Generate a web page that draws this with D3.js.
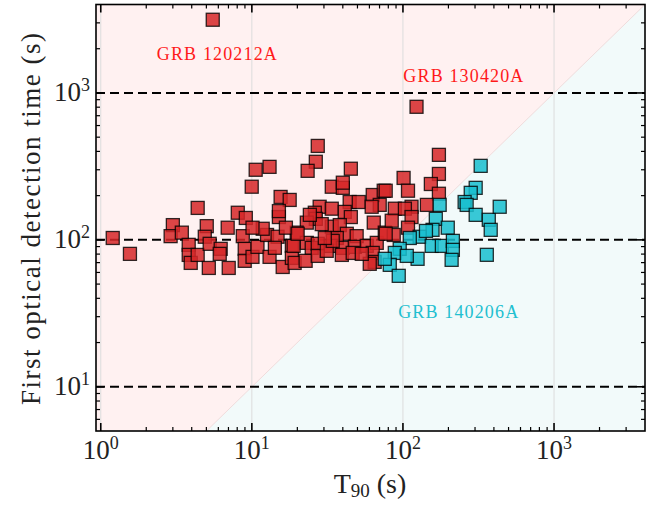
<!DOCTYPE html>
<html>
<head>
<meta charset="utf-8">
<script src="https://cdn.jsdelivr.net/npm/d3@7"></script>
<style>
body{margin:0;background:#fff}
text{font-family:"Liberation Serif","Times New Roman",serif}
</style>
</head>
<body>
<svg></svg>
<script>
// 红色样本 (T90, 首次光学探测时间)
var redT90 = [1.20,1.56,5.51,123,3.00,2.90,3.44,3.82,3.82,3.94,4.38,4.38,5.19,5.03,4.88,5.26,6.22,7.03,6.92,8.07,
  9.12,8.71,8.97,8.97,10.1,10.9,10.6,13.1,9.98,15.5,17.8,12.6,14.8,15.1,15.1,13.1,16.0,11.8,10.1,14.2,
  18.4,18.4,27.3,26.5,23.4,45.2,33.8,40.0,40.0,28.1,33.8,44.4,51.0,63.1,74.6,70.2,62.1,41.2,26.1,26.5,
  23.1,19.8,45.2,64.1,33.8,38.2,29.0,42.5,49.4,36.5,18.9,23.1,24.9,27.3,33.3,40.0,48.0,57.6,67.1,75.8,
  19.2,22.7,27.3,39.4,46.5,63.1,65.0,60.3,53.4,31.3,34.3,173,173,101,153,108,76.9,173,144,88.3,
  114,103,114,84.3,108,86.9,76.9,16.8,20.1,24.2,30.4,6.13]
var redTime = [103,80.3,3150,805,126,106,112,92.5,79,69.7,165,79,64.4,124,105,94,86.9,64.4,121,153,
  141,106,86.9,72.0,76.6,89.6,300,314,230,196,187,108,105,143,157,76.6,65.4,119,121,88.3,
  91,75.4,436,340,295,305,230,226,245,168,163,181,181,202,216,173,168,155,153,139,
  131,112,143,131,123,126,128,110,106,103,91,95.4,88.2,94,91,88.2,89.6,91,95.4,112,
  69.7,72,77.8,79,81.5,81.5,70.8,68.7,80.3,84.2,98.4,379,281,264,240,216,216,206,173,163,
  168,163,143,135,121,108,110,121,110,148,103,80.3]
// 青色样本
var cyanT90 = [175,327,303,281,256,264,303,370,381,437,165,198,157,129,111,155,181,214,214,210,
  125,95.2,88.3,81.8,93.8,106,359,75.8,142]
var cyanTime = [173,319,226,209,181,173,148,137,117,168,139,121,117,105,103,91,91,98.4,85.5,73.1,
  74.3,86.9,81.5,67.6,56.9,77.8,79.1,74.3,115]
var xTicks = [1,10,100,1000]
var yTicks = [10,100,1000]
var xExp = ['0','1','2','3']
var yExp = ['1','2','3']
var notes = ['GRB 120212A','GRB 130420A','GRB 140206A']
var noteT90 = [5.86,251,232]
var noteTime = [1683,1191,29.4]

var red = '#d62728', cyan = '#17becf'

var svg = d3.select('svg')
.attr('width',664)
.attr('height',505)

// 比例尺
const x = d3.scaleLog().domain([0.93, 4000]).range([96, 645]);
const y = d3.scaleLog().domain([5, 4000]).range([431, 4.5]);
const x0 = 96, x1 = 645, y0 = 431, y1 = 4.5

// 背景两个区域 (以 y = x 分界)
svg.append('rect')
  .attr('x', x0).attr('y', y1)
  .attr('width', x1 - x0).attr('height', y0 - y1)
  .attr('fill', '#fff1f1')
svg.append('path')
  .attr('d', d3.line()([[x(5), y(5)], [x(4000), y(4000)], [x(4000), y(5)]]))
  .attr('fill', '#f2fafa')
svg.append('line')
  .attr('x1', x(5)).attr('y1', y(5))
  .attr('x2', x(4000)).attr('y2', y(4000))
  .attr('stroke', '#f0dcdc').attr('stroke-width', 1)

// 竖直网格线
svg.selectAll('.grid')
  .data(xTicks)
  .enter()
  .append('line')
  .attr('x1', d => x(d)).attr('x2', d => x(d))
  .attr('y1', y0).attr('y2', y1)
  .attr('stroke', '#dcdcdc').attr('stroke-width', 1)

// 水平虚线
svg.selectAll('.hline')
  .data(yTicks)
  .enter()
  .append('line')
  .attr('x1', x0).attr('x2', x1)
  .attr('y1', d => y(d)).attr('y2', d => y(d))
  .attr('stroke', '#000').attr('stroke-width', 2)
  .attr('stroke-dasharray', '9,5')

// 散点
function drawSquares(xs, ys, color) {
  var s = 13
  svg.append('g')
    .selectAll('rect')
    .data(xs)
    .enter()
    .append('rect')
    .attr('x', (d, i) => x(d) - s / 2)
    .attr('y', (d, i) => y(ys[i]) - s / 2)
    .attr('width', s).attr('height', s)
    .attr('fill', color).attr('fill-opacity', 0.85)
    .attr('stroke', '#000').attr('stroke-opacity', 0.8).attr('stroke-width', 1.3)
}
drawSquares(redT90, redTime, red)
drawSquares(cyanT90, cyanTime, cyan)

// 标注
svg.selectAll('.note')
  .data(notes)
  .enter()
  .append('text')
  .attr('x', (d, i) => x(noteT90[i]))
  .attr('y', (d, i) => y(noteTime[i]))
  .attr('text-anchor', 'middle')
  .attr('font-size', 18)
  .attr('textLength', 120)
  .attr('fill', (d, i) => i < 2 ? '#ff1a1a' : '#22bfd0')
  .text(d => d)

// 刻度 (朝内, 四边)
var xMinor = [], yMinor = []
for (var e = 0; e < 4; e++) for (var m = 2; m < 10; m++) {
  var v = m * Math.pow(10, e)
  if (v < 4000) xMinor.push(v)
}
for (var e = 0; e < 4; e++) for (var m = 2; m < 10; m++) {
  var v = m * Math.pow(10, e)
  if (v > 5 && v < 4000) yMinor.push(v)
}
var ticks = svg.append('g').attr('stroke', '#000')
xTicks.concat(xMinor).forEach(function(d) {
  var len = xTicks.indexOf(d) >= 0 ? 8 : 4
  ticks.append('line').attr('x1', x(d)).attr('x2', x(d)).attr('y1', y0).attr('y2', y0 - len).attr('stroke-width', len > 4 ? 1.6 : 1.2)
  ticks.append('line').attr('x1', x(d)).attr('x2', x(d)).attr('y1', y1).attr('y2', y1 + len).attr('stroke-width', len > 4 ? 1.6 : 1.2)
})
yTicks.concat(yMinor).forEach(function(d) {
  var len = yTicks.indexOf(d) >= 0 ? 8 : 4
  ticks.append('line').attr('y1', y(d)).attr('y2', y(d)).attr('x1', x0).attr('x2', x0 + len).attr('stroke-width', len > 4 ? 1.6 : 1.2)
  ticks.append('line').attr('y1', y(d)).attr('y2', y(d)).attr('x1', x1).attr('x2', x1 - len).attr('stroke-width', len > 4 ? 1.6 : 1.2)
})

// 边框
svg.append('rect')
  .attr('x', x0).attr('y', y1)
  .attr('width', x1 - x0).attr('height', y0 - y1)
  .attr('fill', 'none').attr('stroke', '#000').attr('stroke-width', 1.6)

// 刻度标签
var xl = svg.selectAll('.xl')
  .data(xTicks)
  .enter()
  .append('text')
  .attr('x', d => x(d))
  .attr('y', 459)
  .attr('text-anchor', 'middle')
  .attr('font-size', 27)
  .attr('fill', '#222')
xl.append('tspan').text('10')
xl.append('tspan').attr('dy', -10).attr('font-size', 18).text((d, i) => xExp[i])

var yl = svg.selectAll('.yl')
  .data(yTicks)
  .enter()
  .append('text')
  .attr('x', 90)
  .attr('y', d => y(d) + 8)
  .attr('text-anchor', 'end')
  .attr('font-size', 27)
  .attr('fill', '#222')
yl.append('tspan').text('10')
yl.append('tspan').attr('dy', -10).attr('font-size', 18).text((d, i) => yExp[i])

// 坐标轴标题
var xt = svg.append('text')
  .attr('x', 370)
  .attr('y', 493)
  .attr('text-anchor', 'middle')
  .attr('font-size', 28)
  .attr('fill', '#222')
xt.append('tspan').text('T')
xt.append('tspan').attr('font-size', 19).attr('dy', 4).text('90')
xt.append('tspan').attr('dy', -4).text(' (s)')

svg.append('text')
  .attr('transform', 'translate(40,219) rotate(-90)')
  .attr('text-anchor', 'middle')
  .attr('font-size', 27)
  .attr('textLength', 372)
  .attr('fill', '#222')
  .text('First optical detection time (s)')
</script>
</body>
</html>
